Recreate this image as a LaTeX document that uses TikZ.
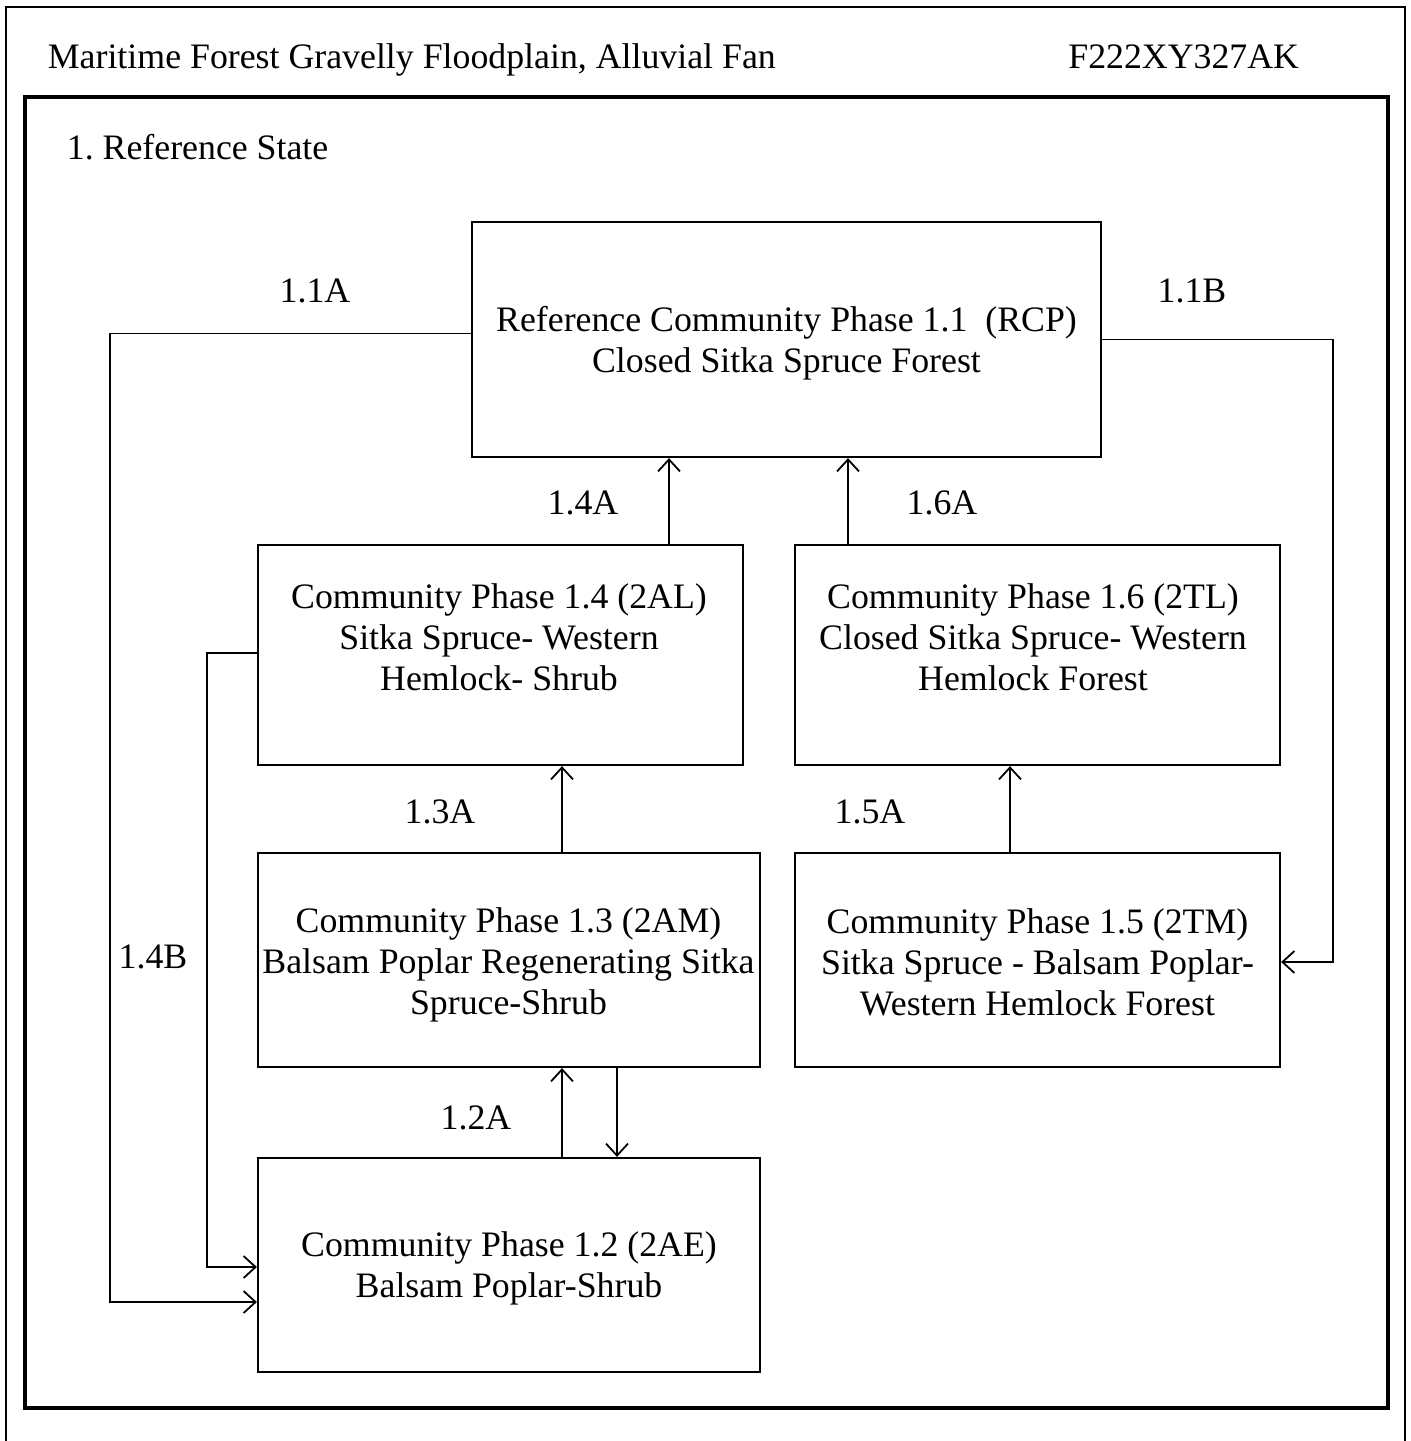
\documentclass[tikz,border=0pt]{standalone}
\usepackage{fontspec}
\setmainfont{Liberation Serif}
\usetikzlibrary{arrows.meta}

\tikzstyle{s} = [rectangle, draw=black, line width=1.1pt, inner sep=0pt]
\tikzstyle{txt} = [align=center, inner sep=0pt]
\tikzstyle{head} = [anchor=base west, inner sep=0pt]

\begin{document}
\begin{tikzpicture}[x=0.5pt, y=-0.5pt, line width=0.9pt,
  >={Straight Barb[length=6pt, width=11pt]},
  font=\fontsize{17.9}{20.5}\selectfont\frenchspacing]

\useasboundingbox (0,0) rectangle (1410,1441);

% frames
\draw (6,7) rectangle (1405,1460);
\draw[line width=2.3pt] (25,97) rectangle (1388,1408);

\node[head] (title) at (47,68) {Maritime Forest Gravelly Floodplain, Alluvial Fan};
\node[head, anchor=base east] (code) at (1300,68) {F222XY327AK};
\node[head] (state) at (66,159) {1. Reference State};

% community phases
\node[s, minimum width=314.5pt, minimum height=117.5pt] (rcp) at (786.5,339.5) {};
\node[txt] (rcptxt) at (786.5,343) {Reference Community Phase 1.1~ (RCP)\\Closed Sitka Spruce Forest};

\node[s, minimum width=242.5pt, minimum height=110pt] (p14) at (500.5,655) {};
\node[txt] (p14txt) at (499,637) {Community Phase 1.4 (2AL)\\Sitka Spruce- Western\\Hemlock- Shrub};

\node[s, minimum width=242.5pt, minimum height=110pt] (p16) at (1037.5,655) {};
\node[txt] (p16txt) at (1033,637) {Community Phase 1.6 (2TL)\\Closed Sitka Spruce- Western\\Hemlock Forest};

\node[s, minimum width=251pt, minimum height=107pt] (p13) at (509,960) {};
\node[txt] (p13txt) at (508.5,965) {Community Phase 1.3 (2AM)\\Balsam Poplar Regenerating Sitka\\Spruce-Shrub};

\node[s, minimum width=242.5pt, minimum height=107pt] (p15) at (1037.5,960) {};
\node[txt] (p15txt) at (1037.5,962) {Community Phase 1.5 (2TM)\\Sitka Spruce - Balsam Poplar-\\Western Hemlock Forest};

\node[s, minimum width=251pt, minimum height=107pt] (p12) at (509,1265) {};
\node[txt] (p12txt) at (509,1268.5) {Community Phase 1.2 (2AE)\\Balsam Poplar-Shrub};

% columns of the vertical pathways
\coordinate (a14) at (669,0);
\coordinate (a16) at (848,0);
\coordinate (a13) at (562,0);
\coordinate (a15) at (1010,0);
\coordinate (a12) at (562,0);
\coordinate (a21) at (617,0);

\draw[->] (p14.north -| a14) -- (rcp.south -| a14)
  node[pos=0.5, xshift=-43pt, yshift=-1pt] (l14a) {1.4A};
\draw[->] (p16.north -| a16) -- (rcp.south -| a16)
  node[pos=0.5, xshift=47pt, yshift=-1pt] (l16a) {1.6A};
\draw[->] (p13.north -| a13) -- (p14.south -| a13)
  node[pos=0.5, xshift=-61pt, yshift=-1.5pt] (l13a) {1.3A};
\draw[->] (p15.north -| a15) -- (p16.south -| a15)
  node[pos=0.5, xshift=-70pt, yshift=-1.5pt] (l15a) {1.5A};
\draw[->] (p12.north -| a12) -- (p13.south -| a12)
  node[pos=0.5, xshift=-43pt, yshift=-2.5pt] (l12a) {1.2A};
\draw[->] (p13.south -| a21) -- (p12.north -| a21);

% elbow pathways
\coordinate (k11a) at (110,1302);
\draw[->] ([yshift=3pt]rcp.west) -| (k11a) -- (p12.west |- k11a);
\node (l11a) at (315,291) {1.1A};

\coordinate (k11b) at (1333,962);
\draw[->] (rcp.east) -| (k11b) -- (p15.east |- k11b);
\node (l11b) at (1192,291) {1.1B};

\coordinate (k14b) at (207,1267);
\draw[->] ([yshift=1pt]p14.west) -| (k14b) -- (p12.west |- k14b);
\node (l14b) at (153,957) {1.4B};

\end{tikzpicture}
\end{document}
